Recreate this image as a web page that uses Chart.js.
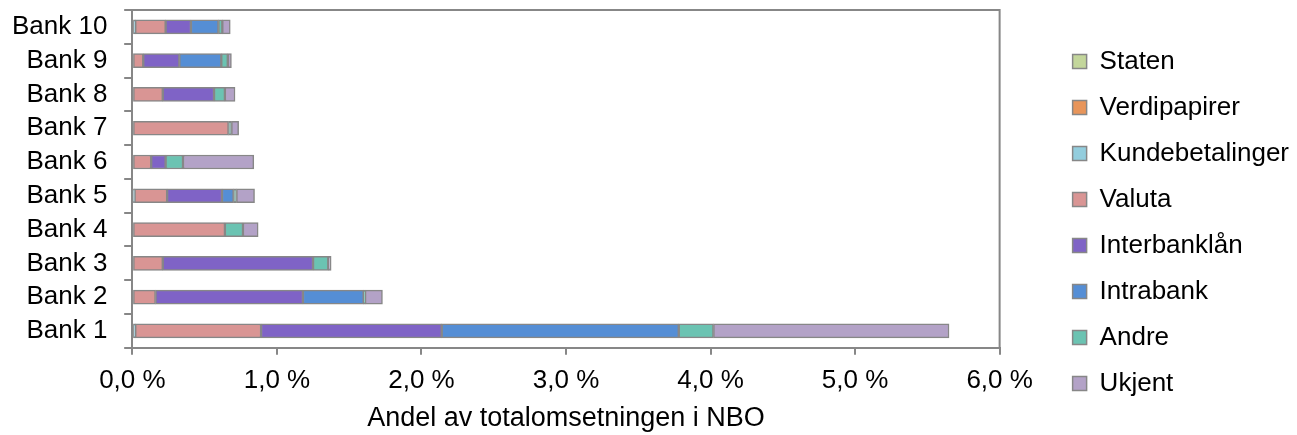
<!DOCTYPE html>
<html>
<head>
<meta charset="utf-8">
<script src="https://cdn.jsdelivr.net/npm/chart.js@4"></script>
<style>
  html, body { margin: 0; padding: 0; background: #fff; }
  #wrap { width: 1297px; height: 435px; }
</style>
</head>
<body>
<div id="wrap"><canvas id="bankChart"></canvas></div>
<script>
// data (share of total NBO turnover, %), listed top to bottom
const banks = ['Bank 10', 'Bank 9', 'Bank 8', 'Bank 7', 'Bank 6', 'Bank 5', 'Bank 4', 'Bank 3', 'Bank 2', 'Bank 1'];
const seriesNames = ['Staten', 'Verdipapirer', 'Kundebetalinger', 'Valuta', 'Interbanklån', 'Intrabank', 'Andre', 'Ukjent'];
const staten          = [0, 0, 0, 0, 0, 0, 0, 0, 0, 0];
const verdipapirer    = [0, 0, 0, 0, 0, 0, 0, 0, 0, 0];
const kundebetalinger = [0.02, 0, 0, 0, 0, 0.015, 0, 0, 0, 0.02];
const valuta          = [0.21, 0.075, 0.21, 0.665, 0.13, 0.225, 0.64, 0.21, 0.16, 0.87];
const interbanklan    = [0.175, 0.25, 0.355, 0, 0.10, 0.38, 0, 1.04, 1.02, 1.25];
const intrabank       = [0.19, 0.29, 0, 0, 0, 0.08, 0, 0, 0.42, 1.64];
const andre           = [0.027, 0.045, 0.075, 0.02, 0.12, 0.02, 0.125, 0.105, 0.01, 0.24];
const ukjent          = [0.055, 0.025, 0.07, 0.05, 0.49, 0.125, 0.105, 0.02, 0.12, 1.63];
const xTicks = [0, 1, 2, 3, 4, 5, 6];

const colors = ['#c3d69b', '#e8955a', '#93cddd', '#d99594', '#7f63c6', '#558ed5', '#6bc3b2', '#b3a2c7'];
const values = [staten, verdipapirer, kundebetalinger, valuta, interbanklan, intrabank, andre, ukjent];

const edge = '#878787';
const font = 'Liberation Sans, Arial, sans-serif';

// top and right edge of the plot frame, plus the category tick marks
const frame = {
  id: 'frame',
  afterDraw(chart) {
    const { ctx, chartArea: a } = chart;
    const y = chart.scales.y;
    ctx.save();
    ctx.strokeStyle = edge;
    ctx.lineWidth = 2;
    ctx.beginPath();
    ctx.moveTo(a.left, a.top);
    ctx.lineTo(a.right, a.top);
    ctx.lineTo(a.right, a.bottom);
    for (let k = 0; k <= banks.length; k++) {
      const py = Math.round(y.getPixelForValue(k - 0.5));
      ctx.moveTo(a.left - 8, py);
      ctx.lineTo(a.left, py);
    }
    ctx.stroke();
    ctx.restore();
  }
};

const datasets = seriesNames.map((name, i) => ({
  label: name,
  data: values[i],
  backgroundColor: colors[i],
  borderColor: edge,
  borderWidth: 1.5,
  borderSkipped: false,
  barThickness: 14,
  xAxisID: 'x',
  yAxisID: 'y'
}));

new Chart(document.getElementById('bankChart'), {
  type: 'bar',
  data: { labels: banks, datasets: datasets },
  options: {
    indexAxis: 'y',
    responsive: true,
    maintainAspectRatio: false,
    animation: false,
    layout: { padding: { left: 12, top: 10, right: -2, bottom: 0 } },
    plugins: {
      legend: {
        position: 'right',
        labels: {
          color: '#000',
          font: { family: font, size: 26 },
          boxWidth: 14,
          boxHeight: 14,
          padding: 20
        }
      },
      tooltip: { enabled: false }
    },
    scales: {
      x: {
        stacked: true,
        min: 0,
        max: 6,
        afterBuildTicks: (s) => { s.ticks = xTicks.map(v => ({ value: v })); },
        // chart.js reserves tick padding twice; keep it once
        afterFit: (s) => { s.paddingLeft = 0; s.paddingRight = 0; s.height -= 10; },
        grid: { drawOnChartArea: false, color: edge, lineWidth: 2, tickLength: 7 },
        border: { color: edge, width: 2 },
        ticks: {
          color: '#000',
          padding: 10,
          maxRotation: 0,
          font: { family: font, size: 26 },
          callback: (v) => Number(v).toFixed(1).replace('.', ',') + ' %'
        },
        title: {
          display: true,
          text: 'Andel av totalomsetningen i NBO',
          color: '#000',
          font: { family: font, size: 27, lineHeight: 1 },
          padding: { top: 9, bottom: 3 }
        }
      },
      y: {
        stacked: true,
        afterFit: (s) => { s.paddingTop = 0; s.paddingBottom = 0; s.width -= 17; },
        grid: { drawOnChartArea: false, color: edge, lineWidth: 2, tickLength: 8, offset: true },
        border: { color: edge, width: 2 },
        ticks: { color: '#000', padding: 17, autoSkip: false, font: { family: font, size: 26 } }
      },
      // invisible spacer between plot and legend
      gap: {
        type: 'category',
        position: 'right',
        display: false,
        afterFit: (s) => { s.width = 53; }
      }
    }
  },
  plugins: [frame]
});
</script>
</body>
</html>
